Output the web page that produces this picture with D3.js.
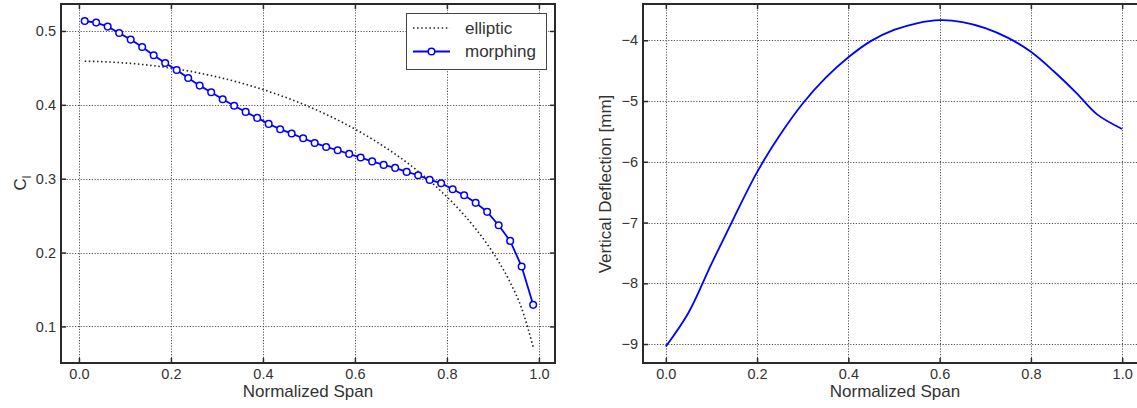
<!DOCTYPE html>
<html>
<head>
<meta charset="utf-8">
<script src="https://cdn.jsdelivr.net/npm/d3@7"></script>
<style>
  html, body { margin: 0; padding: 0; background: #fff; overflow: hidden; }
  svg { display: block; font-family: "Liberation Sans", Arial, Helvetica, sans-serif; }
</style>
</head>
<body>
<svg id="chart" width="1137" height="408"></svg>
<script>
// ---- Data ----
const spanPts = [0.0125, 0.0375, 0.0625, 0.0875, 0.1125, 0.1375, 0.1625, 0.1875, 0.2125, 0.2375,
                 0.2625, 0.2875, 0.3125, 0.3375, 0.3625, 0.3875, 0.4125, 0.4375, 0.4625, 0.4875,
                 0.5125, 0.5375, 0.5625, 0.5875, 0.6125, 0.6375, 0.6625, 0.6875, 0.7125, 0.7375,
                 0.7625, 0.7875, 0.8125, 0.8375, 0.8625, 0.8875, 0.9125, 0.9375, 0.9625, 0.9875];
const ellipticCl = [0.4590, 0.4587, 0.4581, 0.4572, 0.4561, 0.4546, 0.4529, 0.4509, 0.4485, 0.4459,
                    0.4429, 0.4396, 0.4360, 0.4321, 0.4278, 0.4231, 0.4181, 0.4127, 0.4070, 0.4008,
                    0.3941, 0.3871, 0.3795, 0.3714, 0.3628, 0.3536, 0.3438, 0.3333, 0.3221, 0.3100,
                    0.2970, 0.2829, 0.2676, 0.2508, 0.2323, 0.2115, 0.1878, 0.1597, 0.1245, 0.0723];
const morphingCl = [0.5135, 0.5113, 0.5059, 0.4973, 0.4883, 0.4783, 0.4671, 0.4567, 0.4472, 0.4364,
                    0.4260, 0.4170, 0.4075, 0.3988, 0.3904, 0.3823, 0.3742, 0.3670, 0.3611, 0.3548,
                    0.3484, 0.3430, 0.3385, 0.3336, 0.3286, 0.3234, 0.3187, 0.3146, 0.3092, 0.3047,
                    0.2984, 0.2939, 0.2858, 0.2776, 0.2673, 0.2551, 0.2370, 0.2158, 0.1811, 0.1292];
const defSpan = [0.0, 0.05, 0.1, 0.15, 0.2, 0.25, 0.3, 0.35, 0.4, 0.45, 0.5, 0.55, 0.6,
                 0.65, 0.7, 0.75, 0.8, 0.85, 0.9, 0.945, 1.0];
const deflection = [-9.04, -8.48, -7.68, -6.91, -6.17, -5.56, -5.04, -4.62, -4.28, -4.01, -3.83, -3.72, -3.67,
                    -3.70, -3.80, -3.96, -4.19, -4.51, -4.87, -5.22, -5.46];
const spanTicks = [0.0, 0.2, 0.4, 0.6, 0.8, 1.0];
const clTicks = [0.1, 0.2, 0.3, 0.4, 0.5];
const defTicks = [-9, -8, -7, -6, -5, -4];
const legendLabels = ["elliptic", "morphing"];

// ---- Setup ----
const svg = d3.select("#chart");
const BLUE = "#0000ff";
const AXC = "#2a2a2a";
const TXT = "#333";

function panel(cfg) {
  const g = svg.append("g");
  const x = d3.scaleLinear().domain(cfg.xDomain).range(cfg.xRange);
  const y = d3.scaleLinear().domain(cfg.yDomain).range(cfg.yRange);
  const [x0, x1] = cfg.xRange, [y1, y0] = cfg.yRange;

  // grid
  const grid = g.append("g").attr("stroke", "#555").attr("stroke-width", 1)
    .attr("stroke-dasharray", "1.2,1.6");
  grid.selectAll("line.gx").data(cfg.xTicks).join("line")
    .attr("x1", d => Math.round(x(d)) + 0.5).attr("x2", d => Math.round(x(d)) + 0.5)
    .attr("y1", y0).attr("y2", y1);
  grid.selectAll("line.gy").data(cfg.yTicks).join("line")
    .attr("y1", d => Math.round(y(d)) + 0.5).attr("y2", d => Math.round(y(d)) + 0.5)
    .attr("x1", x0).attr("x2", x1);

  const plot = g.append("g");

  // axes
  const fmtX = d3.format(".1f");
  const ax = [
    [d3.axisBottom(x).tickValues(cfg.xTicks).tickFormat(fmtX).tickSize(-5).tickPadding(6), `translate(0,${y1})`, true],
    [d3.axisTop(x).tickValues(cfg.xTicks).tickSize(-5), `translate(0,${y0})`, false],
    [d3.axisLeft(y).tickValues(cfg.yTicks).tickFormat(cfg.yFmt).tickSize(-5).tickPadding(5), `translate(${x0},0)`, true],
    [d3.axisRight(y).tickValues(cfg.yTicks).tickSize(-5), `translate(${x1},0)`, false]
  ];
  ax.forEach(([axis, tr, labels]) => {
    const a = g.append("g").attr("transform", tr).call(axis);
    a.select(".domain").remove();
    a.selectAll(".tick line").attr("stroke", AXC).attr("stroke-width", 1.5);
    if (labels) a.selectAll(".tick text").attr("fill", TXT).attr("font-size", 14.5)
      .attr("font-family", "'Liberation Sans', Arial, sans-serif");
    else a.selectAll(".tick text").remove();
  });

  // frame
  g.append("rect").attr("x", x0).attr("y", y0).attr("width", x1 - x0).attr("height", y1 - y0)
    .attr("fill", "none").attr("stroke", AXC).attr("stroke-width", 2);

  // x label
  g.append("text").attr("x", (x0 + Math.min(x1, 1137)) / 2 + (cfg.xLabelShift || 0)).attr("y", 397)
    .attr("text-anchor", "middle").attr("font-size", 17).attr("fill", TXT).text("Normalized Span");

  return { g, plot, x, y };
}

// ---- Left panel ----
const L = panel({
  xDomain: [-0.039, 1.035], xRange: [61, 555],
  yDomain: [0.0505, 0.5365], yRange: [363, 4],
  xTicks: spanTicks, yTicks: clTicks, yFmt: d3.format(".1f")
});

const ellData = spanPts.map((s, i) => [s, ellipticCl[i]]);
const morData = spanPts.map((s, i) => [s, morphingCl[i]]);

L.plot.append("path").datum(ellData)
  .attr("fill", "none").attr("stroke", "#222").attr("stroke-width", 1.6)
  .attr("stroke-dasharray", "1.5,2.6")
  .attr("d", d3.line().x(d => L.x(d[0])).y(d => L.y(d[1])).curve(d3.curveMonotoneX));

L.plot.append("path").datum(morData)
  .attr("fill", "none").attr("stroke", BLUE).attr("stroke-width", 1.8)
  .attr("d", d3.line().x(d => L.x(d[0])).y(d => L.y(d[1])));

L.plot.selectAll("circle.m").data(morData).join("circle")
  .attr("cx", d => L.x(d[0])).attr("cy", d => L.y(d[1])).attr("r", 3.3)
  .attr("fill", "#fff").attr("stroke", BLUE).attr("stroke-width", 1.5);

// C_l label
const cl = L.g.append("text").attr("transform", "translate(26,183) rotate(-90)")
  .attr("text-anchor", "middle").attr("font-size", 17).attr("fill", TXT);
cl.append("tspan").text("C");
cl.append("tspan").attr("font-size", 12).attr("dy", 5).text("l");

// legend
const lg = L.g.append("g");
lg.append("rect").attr("x", 406.5).attr("y", 13.5).attr("width", 140).attr("height", 56)
  .attr("fill", "#fff").attr("stroke", "#444").attr("stroke-width", 1);
lg.append("line").attr("x1", 413).attr("x2", 450).attr("y1", 28).attr("y2", 28)
  .attr("stroke", "#222").attr("stroke-width", 1.6).attr("stroke-dasharray", "1.5,2.6");
lg.append("line").attr("x1", 413).attr("x2", 450).attr("y1", 51.5).attr("y2", 51.5)
  .attr("stroke", BLUE).attr("stroke-width", 1.8);
lg.append("circle").attr("cx", 431.5).attr("cy", 51.5).attr("r", 3.3)
  .attr("fill", "#fff").attr("stroke", BLUE).attr("stroke-width", 1.5);
lg.selectAll("text.lt").data(legendLabels).join("text")
  .attr("x", 465).attr("y", (d, i) => 28 + i * 23.5).attr("dy", "0.35em")
  .attr("font-size", 17).attr("fill", TXT).text(d => d);

// ---- Right panel ----
const R = panel({
  xDomain: [-0.05, 1.05], xRange: [643, 1145],
  yDomain: [-9.312, -3.403], yRange: [363, 4],
  xTicks: spanTicks, yTicks: defTicks, yFmt: d3.format("d"),
  xLabelShift: 5
});

R.plot.append("path").datum(defSpan.map((s, i) => [s, deflection[i]]))
  .attr("fill", "none").attr("stroke", BLUE).attr("stroke-width", 1.8)
  .attr("d", d3.line().x(d => R.x(d[0])).y(d => R.y(d[1])).curve(d3.curveCatmullRom.alpha(0.5)));

R.g.append("text").attr("transform", "translate(611,184) rotate(-90)")
  .attr("text-anchor", "middle").attr("font-size", 17).attr("fill", TXT)
  .text("Vertical Deflection [mm]");
</script>
</body>
</html>
